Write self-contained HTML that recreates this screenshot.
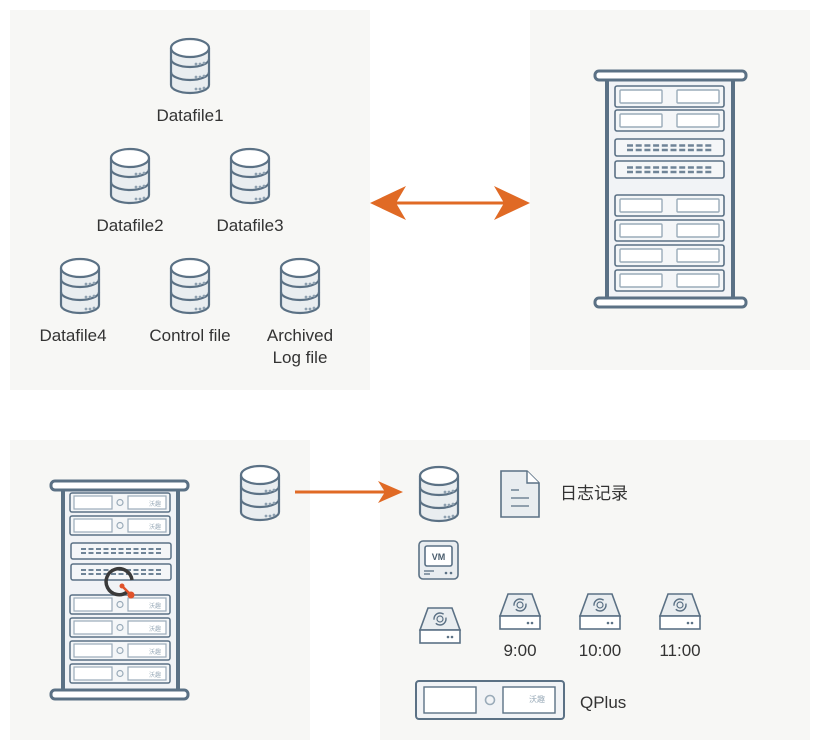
<!DOCTYPE html>
<html><head><meta charset="utf-8"><style>
body{margin:0;background:#fff;}
svg{display:block;}
text{font-family:"Liberation Sans","Noto Sans CJK SC",sans-serif;fill:#333;font-size:17px;}
</style></head><body>
<svg width="820" height="750" viewBox="0 0 820 750" xmlns="http://www.w3.org/2000/svg">
<defs>
<g id="db">
 <path d="M2,11 V48 A19,8 0 0 0 40,48 V11" fill="#e9edf0" stroke="#5b7185" stroke-width="2.2"/>
 <path d="M2,22 A19,8 0 0 0 40,22 M2,35 A19,8 0 0 0 40,35" fill="none" stroke="#5b7185" stroke-width="2.2"/>
 <ellipse cx="21" cy="11" rx="19" ry="9" fill="#fff" stroke="#5b7185" stroke-width="2.2"/>
 <g fill="#8ea0b0"><circle cx="27" cy="27" r="1.4"/><circle cx="31" cy="27" r="1.4"/><circle cx="35" cy="26" r="1.4"/>
 <circle cx="27" cy="40" r="1.4"/><circle cx="31" cy="40" r="1.4"/><circle cx="35" cy="39" r="1.4"/>
 <circle cx="27" cy="52" r="1.4"/><circle cx="31" cy="52" r="1.4"/><circle cx="35" cy="51" r="1.4"/></g>
</g>
<g id="u2">
 <rect x="0" y="0" width="109" height="21" rx="2" fill="#f4f6f8" stroke="#5b7185" stroke-width="1.6"/>
 <rect x="5" y="4" width="42" height="13" rx="1" fill="#fff" stroke="#9aabb9" stroke-width="1.4"/>
 <rect x="62" y="4" width="42" height="13" rx="1" fill="#fff" stroke="#9aabb9" stroke-width="1.4"/>
</g>
<g id="sw">
 <rect x="0" y="0" width="109" height="17" rx="2" fill="#f4f6f8" stroke="#5b7185" stroke-width="1.6"/>
 <g stroke="#6f8497" stroke-width="2.5" stroke-dasharray="6,2.7"><line x1="12" y1="6.5" x2="98" y2="6.5"/><line x1="12" y1="11" x2="98" y2="11"/></g>
</g>
<g id="bu">
 <rect x="0" y="0" width="100" height="19" rx="2" fill="#f4f6f8" stroke="#5b7185" stroke-width="1.5"/>
 <rect x="4" y="3" width="38" height="13" fill="#fff" stroke="#9aabb9" stroke-width="1.2"/>
 <rect x="58" y="3" width="38" height="13" fill="#fff" stroke="#9aabb9" stroke-width="1.2"/>
 <circle cx="50" cy="9.5" r="3" fill="none" stroke="#9aabb9" stroke-width="1.2"/>
 <text x="85" y="13" style="font-size:6px;fill:#9aabb9" text-anchor="middle">沃趣</text>
</g>
<g id="bsw">
 <rect x="0" y="0" width="100" height="16" rx="2" fill="#f4f6f8" stroke="#5b7185" stroke-width="1.5"/>
 <g stroke="#6f8497" stroke-width="2" stroke-dasharray="5,2.5"><line x1="10" y1="6" x2="90" y2="6"/><line x1="10" y1="10" x2="90" y2="10"/></g>
</g>
<g id="drv">
 <path d="M8,0 H32 L40,22 H0 Z" fill="#e9edf0" stroke="#5b7185" stroke-width="1.6"/>
 <rect x="0" y="22" width="40" height="13" fill="#fff" stroke="#5b7185" stroke-width="1.6"/>
 <circle cx="20" cy="11" r="6" fill="none" stroke="#5b7185" stroke-width="1.4" stroke-dasharray="14,4"/>
 <circle cx="20" cy="11" r="3" fill="none" stroke="#5b7185" stroke-width="1.2"/>
 <circle cx="28" cy="29" r="1.3" fill="#5b7185"/><circle cx="32" cy="29" r="1.3" fill="#5b7185"/>
</g>
</defs>

<rect x="10" y="10" width="360" height="380" fill="#f7f7f5"/>
<rect x="530" y="10" width="280" height="360" fill="#f7f7f5"/>
<rect x="10" y="440" width="300" height="300" fill="#f7f7f5"/>
<rect x="380" y="440" width="430" height="300" fill="#f7f7f5"/>

<use href="#db" x="169" y="37"/>
<use href="#db" x="109" y="147"/>
<use href="#db" x="229" y="147"/>
<use href="#db" x="59" y="257"/>
<use href="#db" x="169" y="257"/>
<use href="#db" x="279" y="257"/>
<text x="190" y="121" text-anchor="middle">Datafile1</text>
<text x="130" y="231" text-anchor="middle">Datafile2</text>
<text x="250" y="231" text-anchor="middle">Datafile3</text>
<text x="73" y="341" text-anchor="middle">Datafile4</text>
<text x="190" y="341" text-anchor="middle">Control file</text>
<text x="300" y="341" text-anchor="middle">Archived</text>
<text x="300" y="363" text-anchor="middle">Log file</text>

<line x1="390" y1="203" x2="510" y2="203" stroke="#e06a25" stroke-width="3"/>
<path d="M370,203 L406,186 L396,203 L406,220 Z" fill="#e06a25"/>
<path d="M530,203 L494,186 L504,203 L494,220 Z" fill="#e06a25"/>

<rect x="607" y="78" width="126" height="222" fill="#f1f3f6" stroke="#5b7185" stroke-width="4"/>
<rect x="595" y="71" width="151" height="9" rx="4" fill="#fff" stroke="#5b7185" stroke-width="3"/>
<rect x="595" y="298" width="151" height="9" rx="4" fill="#fff" stroke="#5b7185" stroke-width="3"/>
<use href="#u2" x="615" y="86"/>
<use href="#u2" x="615" y="110"/>
<use href="#sw" x="615" y="139"/>
<use href="#sw" x="615" y="161"/>
<use href="#u2" x="615" y="195"/>
<use href="#u2" x="615" y="220"/>
<use href="#u2" x="615" y="245"/>
<use href="#u2" x="615" y="270"/>

<rect x="63" y="486" width="115" height="207" fill="#f1f3f6" stroke="#5b7185" stroke-width="4"/>
<rect x="51" y="481" width="137" height="9" rx="4" fill="#fff" stroke="#5b7185" stroke-width="3"/>
<rect x="51" y="690" width="137" height="9" rx="4" fill="#fff" stroke="#5b7185" stroke-width="3"/>
<use href="#bu" x="70" y="493"/>
<use href="#bu" x="70" y="516"/>
<use href="#bsw" x="71" y="543"/>
<use href="#bsw" x="71" y="564"/>
<use href="#bu" x="70" y="595"/>
<use href="#bu" x="70" y="618"/>
<use href="#bu" x="70" y="641"/>
<use href="#bu" x="70" y="664"/>
<path d="M127,592 A13,13 0 1 1 132,580" fill="none" stroke="#3a3a3a" stroke-width="3.5"/>
<line x1="123" y1="587" x2="131" y2="595" stroke="#e0522a" stroke-width="2.5"/>
<circle cx="122" cy="586" r="2.5" fill="#e0522a"/><circle cx="131" cy="595" r="3.5" fill="#e0522a"/>

<use href="#db" x="239" y="464"/>
<line x1="295" y1="492" x2="385" y2="492" stroke="#e06a25" stroke-width="3"/>
<path d="M403,492 L378,481 L385,492 L378,503 Z" fill="#e06a25"/>

<use href="#db" x="418" y="465"/>
<path d="M501,471 H527 L539,483 V517 H501 Z" fill="#e9edf0" stroke="#5b7185" stroke-width="1.6"/>
<path d="M527,471 V483 H539" fill="#fff" stroke="#5b7185" stroke-width="1.4"/>
<g stroke="#5b7185" stroke-width="1.3"><line x1="511" y1="490" x2="519" y2="490"/><line x1="511" y1="498" x2="529" y2="498"/><line x1="511" y1="506" x2="529" y2="506"/></g>
<text x="560" y="499">日志记录</text>

<rect x="419" y="541" width="39" height="38" rx="4" fill="#e9edf0" stroke="#5b7185" stroke-width="1.6"/>
<rect x="425" y="546" width="27" height="20" rx="2" fill="#fff" stroke="#5b7185" stroke-width="1.6"/>
<text x="438.5" y="560" text-anchor="middle" style="font-size:9px;font-weight:bold;fill:#4a5d6e">VM</text>
<g stroke="#5b7185" stroke-width="1.3"><line x1="424" y1="571" x2="434" y2="571"/><line x1="424" y1="574" x2="430" y2="574"/></g>
<circle cx="446" cy="573" r="1.3" fill="#5b7185"/><circle cx="451" cy="573" r="1.3" fill="#5b7185"/>

<use href="#drv" x="420" y="608"/>
<use href="#drv" x="500" y="594"/>
<use href="#drv" x="580" y="594"/>
<use href="#drv" x="660" y="594"/>
<text x="520" y="656" text-anchor="middle">9:00</text>
<text x="600" y="656" text-anchor="middle">10:00</text>
<text x="680" y="656" text-anchor="middle">11:00</text>

<rect x="416" y="681" width="148" height="38" rx="3" fill="#f1f3f6" stroke="#5b7185" stroke-width="2"/>
<rect x="424" y="687" width="52" height="26" fill="#fff" stroke="#5b7185" stroke-width="1.4"/>
<rect x="503" y="687" width="52" height="26" fill="#fff" stroke="#5b7185" stroke-width="1.4"/>
<circle cx="490" cy="700" r="4.5" fill="none" stroke="#9aabb9" stroke-width="1.6"/>
<text x="537" y="702" text-anchor="middle" style="font-size:8px;fill:#9aabb9">沃趣</text>
<text x="580" y="708">QPlus</text>
</svg>
</body></html>
